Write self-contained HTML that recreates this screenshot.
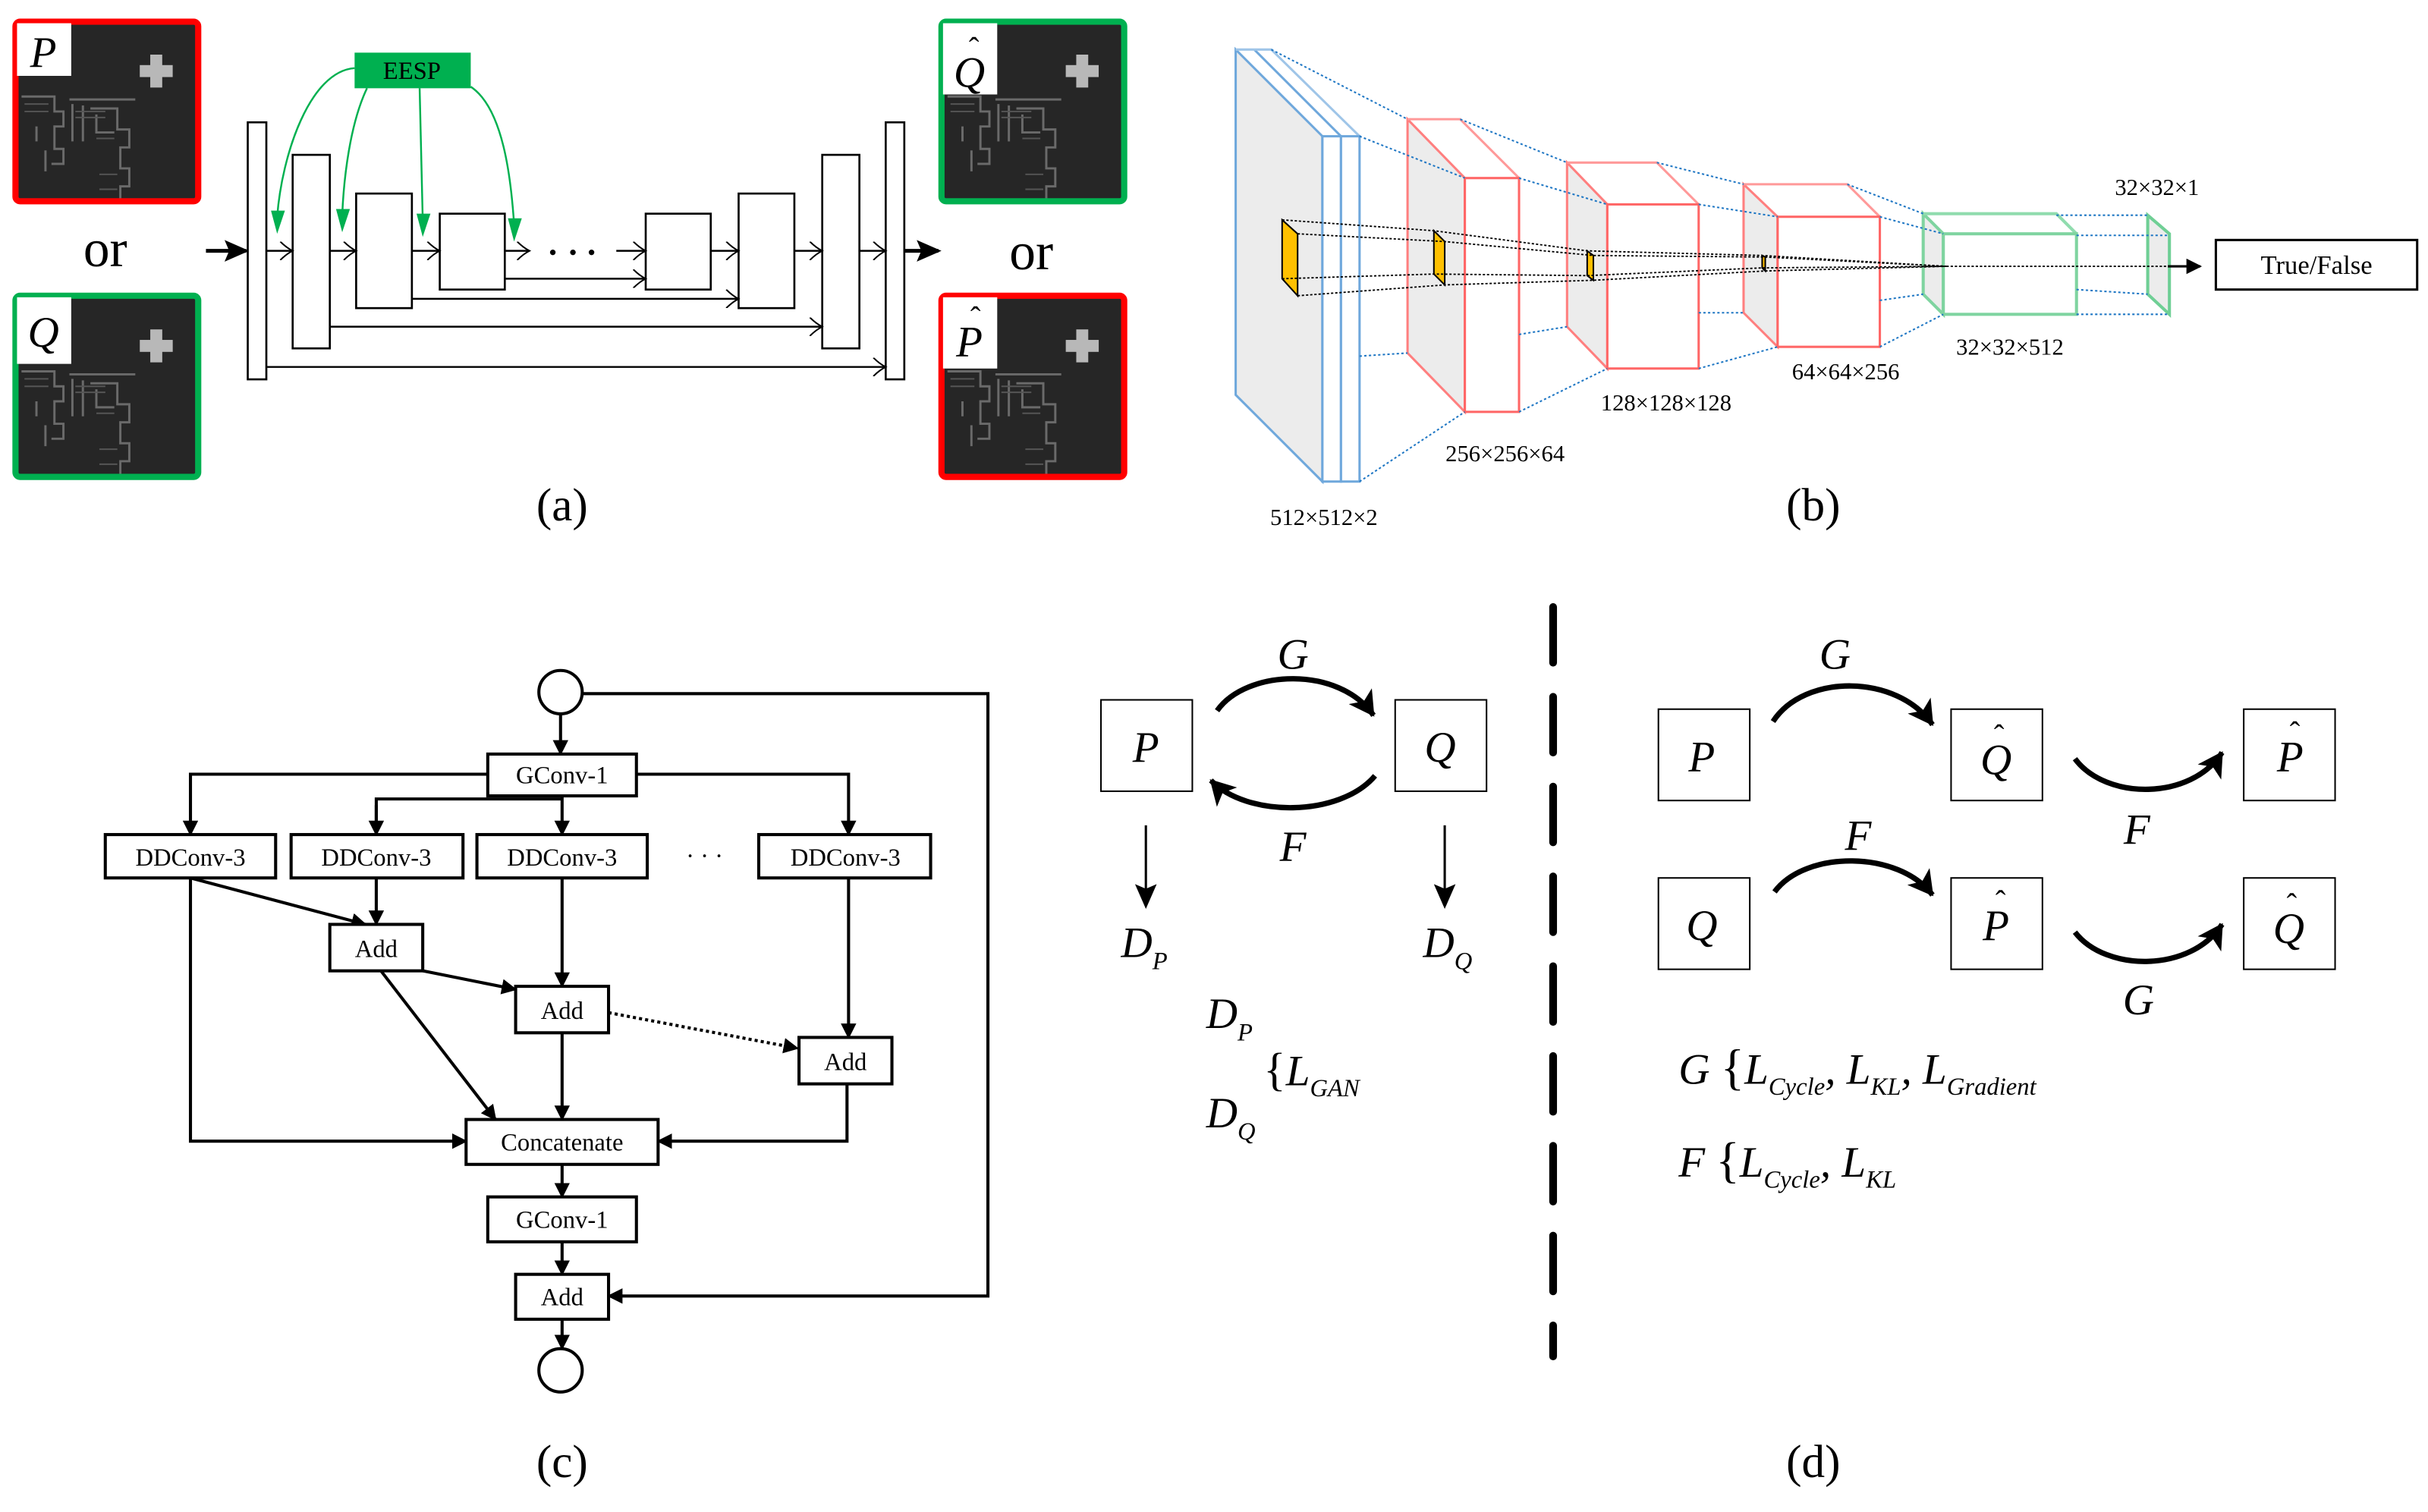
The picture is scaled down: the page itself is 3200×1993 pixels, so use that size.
<!DOCTYPE html>
<html><head><meta charset="utf-8"><style>
html,body{margin:0;padding:0;background:#fff;}
svg{display:block;}
text{font-family:"Liberation Serif",serif;}
.it{font-style:italic;}
</style></head><body>
<svg width="3200" height="1993" viewBox="0 0 1568 976.5" preserveAspectRatio="none" xmlns="http://www.w3.org/2000/svg">
<defs>
<marker id="ah" markerWidth="10" markerHeight="10" refX="9" refY="5" orient="auto" markerUnits="userSpaceOnUse"><path d="M0,0 L10,5 L0,10 Z" fill="#000"/></marker>
<marker id="ahb" markerWidth="16" markerHeight="14" refX="14" refY="7" orient="auto" markerUnits="userSpaceOnUse"><path d="M0,0 L16,7 L0,14 L3,7 Z" fill="#000"/></marker>
<marker id="open" markerWidth="10" markerHeight="12" refX="9" refY="6" orient="auto" markerUnits="userSpaceOnUse"><path d="M1,0 Q5,4 9,6 Q5,8 1,12" fill="none" stroke="#000" stroke-width="1"/></marker>
<marker id="cah" markerWidth="18" markerHeight="18" refX="15" refY="9" orient="auto" markerUnits="userSpaceOnUse"><path d="M0,0 L16,9 L0,18 L4,9 Z" fill="#000"/></marker>
<symbol id="sar" viewBox="0 0 122 120">
<rect width="122" height="120" fill="#262626"/>
<rect x="90" y="22" width="8" height="22" fill="#b8b8b8"/><rect x="83" y="29" width="22" height="8" fill="#b8b8b8"/>
<g fill="none" stroke="#6a6a6a" stroke-width="1.5">
<path d="M4,50 H26 V60 H32 V70 H26 V85 H32 V95 H24"/>
<path d="M36,52 H80"/><path d="M38,55 V80"/><path d="M45,56 V80"/>
<path d="M50,58 H68 V72 H76 V84 H70 V98 H76 V110 H70 V120"/>
<path d="M54,62 V74 H66"/><path d="M14,70 V80"/><path d="M20,86 V100"/>
</g>
<g stroke="#555" stroke-width="1"><path d="M6,55 H22 M6,60 H22 M54,78 H66 M56,102 H68 M56,112 H68 M40,60 H60 M40,64 H60"/></g>
</symbol>
</defs>

<!-- ========== (a) ========== -->
<g>
<use href="#sar" x="10" y="14" width="118" height="116"/>
<rect x="10" y="14" width="118" height="116" rx="3" fill="none" stroke="#ff0000" stroke-width="4"/>
<rect x="11" y="15" width="35" height="34" fill="#fff"/>
<text x="28" y="43" font-size="28" class="it" text-anchor="middle">P</text>

<use href="#sar" x="10" y="191" width="118" height="117"/>
<rect x="10" y="191" width="118" height="117" rx="3" fill="none" stroke="#00b050" stroke-width="4"/>
<rect x="11" y="192" width="35" height="43" fill="#fff"/>
<text x="28" y="224" font-size="28" class="it" text-anchor="middle">Q</text>

<use href="#sar" x="608" y="14" width="118" height="116"/>
<rect x="608" y="14" width="118" height="116" rx="3" fill="none" stroke="#00b050" stroke-width="4"/>
<rect x="609" y="15" width="35" height="46" fill="#fff"/>
<text x="626" y="56" font-size="28" class="it" text-anchor="middle">Q</text>
<text x="629" y="38" font-size="20" text-anchor="middle">ˆ</text>

<use href="#sar" x="608" y="191" width="118" height="117"/>
<rect x="608" y="191" width="118" height="117" rx="3" fill="none" stroke="#ff0000" stroke-width="4"/>
<rect x="609" y="192" width="35" height="46" fill="#fff"/>
<text x="626" y="230" font-size="28" class="it" text-anchor="middle">P</text>
<text x="630" y="212" font-size="20" text-anchor="middle">ˆ</text>

<text x="68" y="172" font-size="34" text-anchor="middle">or</text>
<text x="666" y="174" font-size="34" text-anchor="middle">or</text>

<line x1="133" y1="162" x2="159" y2="162" stroke="#000" stroke-width="2.5" marker-end="url(#ahb)"/>
<line x1="584" y1="162" x2="606" y2="162" stroke="#000" stroke-width="2.5" marker-end="url(#ahb)"/>

<g fill="#fff" stroke="#000" stroke-width="1.3">
<rect x="160" y="79" width="12" height="166"/>
<rect x="189" y="100" width="24" height="125"/>
<rect x="230" y="125" width="36" height="74"/>
<rect x="284" y="138" width="42" height="49"/>
<rect x="417" y="138" width="42" height="49"/>
<rect x="477" y="125" width="36" height="74"/>
<rect x="531" y="100" width="24" height="125"/>
<rect x="572" y="79" width="12" height="166"/>
</g>
<g stroke="#000" stroke-width="1.2" fill="none" marker-end="url(#open)">
<line x1="172" y1="162" x2="189" y2="162"/>
<line x1="213" y1="162" x2="230" y2="162"/>
<line x1="266" y1="162" x2="284" y2="162"/>
<line x1="326" y1="162" x2="342" y2="162"/>
<line x1="398" y1="162" x2="417" y2="162"/>
<line x1="459" y1="162" x2="477" y2="162"/>
<line x1="513" y1="162" x2="531" y2="162"/>
<line x1="555" y1="162" x2="572" y2="162"/>
<line x1="326" y1="180" x2="417" y2="180"/>
<line x1="266" y1="193" x2="477" y2="193"/>
<line x1="213" y1="211" x2="531" y2="211"/>
<line x1="172" y1="237" x2="572" y2="237"/>
</g>
<circle cx="357" cy="163" r="1.8"/><circle cx="370" cy="163" r="1.8"/><circle cx="382" cy="163" r="1.8"/>

<rect x="229" y="34" width="75" height="23" fill="#00b050"/>
<text x="266" y="51" font-size="16" text-anchor="middle">EESP</text>
<g fill="none" stroke="#00b050" stroke-width="1.2">
<path d="M229,44 C200,46 182,100 179,140"/>
<path d="M237,57 C226,80 222,115 221,139"/>
<path d="M271,57 L273,142"/>
<path d="M304,56 C325,70 330,115 332,145"/>
</g>
<g fill="#00b050">
<polygon points="175,136 184,136 179,151"/>
<polygon points="217,135 226,135 221,150"/>
<polygon points="269,138 278,138 273,153"/>
<polygon points="328,141 337,141 332,156"/>
</g>
<text x="363" y="336" font-size="30" text-anchor="middle">(a)</text>
</g>

<!-- ========== (b) ========== -->
<g>
<polygon points="798,32 854,88 854,311 798,255" fill="#ececec" stroke="#6fa8dc" stroke-width="1.5"/>
<polyline points="810,32 866,88" fill="none" stroke="#6fa8dc" stroke-width="1.5"/>
<polyline points="798,32 821,32 878,88" fill="none" stroke="#9fc5e8" stroke-width="1.5"/>
<rect x="854" y="88" width="12" height="223" fill="#fff" stroke="#6fa8dc" stroke-width="1.5"/>
<rect x="866" y="88" width="12" height="223" fill="#fff" stroke="#6fa8dc" stroke-width="1.5"/>
<polygon points="909,77 946,115 946,266 909,228" fill="#ececec" stroke="#ff7f7f" stroke-width="1.5"/>
<polyline points="909,77 943,77 981,115" fill="none" stroke="#ff9999" stroke-width="1.5"/>
<rect x="946" y="115" width="35" height="151" fill="#fff" stroke="#ff6666" stroke-width="1.5"/>
<polygon points="1012,105 1038,132 1038,238 1012,211" fill="#ececec" stroke="#ff7f7f" stroke-width="1.5"/>
<polyline points="1012,105 1070,105 1097,132" fill="none" stroke="#ff9999" stroke-width="1.5"/>
<rect x="1038" y="132" width="59" height="106" fill="#fff" stroke="#ff6666" stroke-width="1.5"/>
<polygon points="1126,119 1148,140 1148,224 1126,202" fill="#ececec" stroke="#ff7f7f" stroke-width="1.5"/>
<polyline points="1126,119 1193,119 1214,140" fill="none" stroke="#ff9999" stroke-width="1.5"/>
<rect x="1148" y="140" width="66" height="84" fill="#fff" stroke="#ff6666" stroke-width="1.5"/>
<polygon points="1242,138 1255,151 1255,203 1242,190" fill="#ececec" stroke="#7fd4a0" stroke-width="2"/>
<polyline points="1242,138 1328,138 1341,151" fill="none" stroke="#90dcae" stroke-width="2"/>
<rect x="1255" y="151" width="86" height="52" fill="#fff" stroke="#7fd4a0" stroke-width="2"/>
<polygon points="1387,139 1401,151 1401,203 1387,190" fill="#ececec" stroke="#6fcf95" stroke-width="2"/>
<g stroke="#1f77c4" stroke-width="1" stroke-dasharray="1.5,1.5" fill="none">
<line x1="821" y1="32" x2="909" y2="77"/><line x1="878" y1="88" x2="946" y2="115"/>
<line x1="878" y1="311" x2="946" y2="266"/><line x1="878" y1="230" x2="909" y2="228"/>
<line x1="943" y1="77" x2="1012" y2="105"/><line x1="981" y1="115" x2="1038" y2="132"/>
<line x1="981" y1="266" x2="1038" y2="238"/><line x1="981" y1="216" x2="1012" y2="211"/>
<line x1="1070" y1="105" x2="1126" y2="119"/><line x1="1097" y1="132" x2="1148" y2="140"/>
<line x1="1097" y1="238" x2="1148" y2="224"/><line x1="1097" y1="202" x2="1126" y2="202"/>
<line x1="1193" y1="119" x2="1242" y2="138"/><line x1="1214" y1="140" x2="1255" y2="151"/>
<line x1="1214" y1="224" x2="1255" y2="203"/><line x1="1214" y1="194" x2="1242" y2="190"/>
<line x1="1328" y1="139" x2="1387" y2="139"/><line x1="1341" y1="152" x2="1401" y2="152"/>
<line x1="1341" y1="203" x2="1401" y2="203"/><line x1="1341" y1="187" x2="1387" y2="190"/>
</g>
<g fill="#ffc000" stroke="#000" stroke-width="1">
<polygon points="828,142 838,151 838,191 828,180"/>
<polygon points="926,149 933,156 933,184 926,177"/>
<polygon points="1025,162 1029,165 1029,181 1025,178"/>
<polygon points="1138,165 1140,166 1140,175 1138,173"/>
</g>
<g stroke="#000" stroke-width="0.9" stroke-dasharray="1.5,1.2" fill="none">
<polyline points="828,142 926,149 1025,162 1138,165 1257,172"/>
<polyline points="838,151 933,156 1029,165 1140,166 1257,172"/>
<polyline points="838,191 933,184 1029,181 1140,175 1257,172"/>
<polyline points="828,180 926,177 1025,178 1138,173 1257,172"/>
<line x1="1257" y1="172" x2="1405" y2="172"/>
</g>
<line x1="1400" y1="172" x2="1421" y2="172" stroke="#000" stroke-width="1.5" marker-end="url(#ah)"/>
<rect x="1431" y="155" width="130" height="32" fill="#fff" stroke="#000" stroke-width="1.5"/>
<text x="1496" y="177" font-size="17" text-anchor="middle">True/False</text>
<g font-size="15" text-anchor="middle">
<text x="855" y="339">512×512×2</text>
<text x="972" y="298">256×256×64</text>
<text x="1076" y="265">128×128×128</text>
<text x="1192" y="245">64×64×256</text>
<text x="1298" y="229">32×32×512</text>
<text x="1393" y="126">32×32×1</text>
</g>
<text x="1171" y="336" font-size="30" text-anchor="middle">(b)</text>
</g>

<!-- ========== (c) ========== -->
<g stroke="#000" stroke-width="2" fill="none">
<circle cx="362" cy="447" r="14" fill="#fff"/>
<circle cx="362" cy="885" r="14" fill="#fff"/>
<line x1="362" y1="461" x2="362" y2="487" marker-end="url(#ah)"/>
<polyline points="315,500 123,500 123,539" marker-end="url(#ah)"/>
<polyline points="411,500 548,500 548,539" marker-end="url(#ah)"/>
<polyline points="243,539 243,516 363,516"/>
<line x1="243" y1="520" x2="243" y2="539" marker-end="url(#ah)"/>
<line x1="363" y1="514" x2="363" y2="539" marker-end="url(#ah)"/>
<line x1="123" y1="567" x2="236" y2="597" marker-end="url(#ah)"/>
<line x1="243" y1="567" x2="243" y2="597" marker-end="url(#ah)"/>
<line x1="363" y1="567" x2="363" y2="637" marker-end="url(#ah)"/>
<line x1="548" y1="567" x2="548" y2="670" marker-end="url(#ah)"/>
<line x1="273" y1="627" x2="333" y2="639" marker-end="url(#ah)"/>
<line x1="393" y1="654" x2="515" y2="677" stroke-dasharray="2,2" marker-end="url(#ah)"/>
<polyline points="123,567 123,737 301,737" marker-end="url(#ah)"/>
<line x1="246" y1="627" x2="320" y2="723" marker-end="url(#ah)"/>
<line x1="363" y1="667" x2="363" y2="723" marker-end="url(#ah)"/>
<polyline points="547,700 547,737 425,737" marker-end="url(#ah)"/>
<line x1="363" y1="752" x2="363" y2="773" marker-end="url(#ah)"/>
<line x1="363" y1="802" x2="363" y2="823" marker-end="url(#ah)"/>
<line x1="363" y1="852" x2="363" y2="871" marker-end="url(#ah)"/>
<polyline points="376,448 638,448 638,837 393,837" marker-end="url(#ah)"/>
</g>
<g fill="#fff" stroke="#000" stroke-width="2">
<rect x="315" y="487" width="96" height="27"/>
<rect x="68" y="539" width="110" height="28"/>
<rect x="188" y="539" width="111" height="28"/>
<rect x="308" y="539" width="110" height="28"/>
<rect x="490" y="539" width="111" height="28"/>
<rect x="213" y="597" width="60" height="30"/>
<rect x="333" y="637" width="60" height="30"/>
<rect x="516" y="670" width="60" height="30"/>
<rect x="301" y="723" width="124" height="29"/>
<rect x="315" y="773" width="96" height="29"/>
<rect x="333" y="823" width="60" height="29"/>
</g>
<g font-size="16" text-anchor="middle">
<text x="363" y="506">GConv-1</text>
<text x="123" y="559">DDConv-3</text>
<text x="243" y="559">DDConv-3</text>
<text x="363" y="559">DDConv-3</text>
<text x="546" y="559">DDConv-3</text>
<text x="243" y="618">Add</text>
<text x="363" y="658">Add</text>
<text x="546" y="691">Add</text>
<text x="363" y="743">Concatenate</text>
<text x="363" y="793">GConv-1</text>
<text x="363" y="843">Add</text>
<text x="455" y="558">· · ·</text>
</g>
<text x="363" y="954" font-size="30" text-anchor="middle">(c)</text>

<!-- ========== (d) ========== -->
<line x1="1003" y1="392" x2="1003" y2="876" stroke="#000" stroke-width="5" stroke-dasharray="36,22" stroke-linecap="round"/>
<g fill="#fff" stroke="#000" stroke-width="1">
<rect x="711" y="452" width="59" height="59"/>
<rect x="901" y="452" width="59" height="59"/>
<rect x="1071" y="458" width="59" height="59"/>
<rect x="1260" y="458" width="59" height="59"/>
<rect x="1449" y="458" width="59" height="59"/>
<rect x="1071" y="567" width="59" height="59"/>
<rect x="1260" y="567" width="59" height="59"/>
<rect x="1449" y="567" width="59" height="59"/>
</g>
<g fill="none" stroke="#000" stroke-width="3.5" marker-end="url(#cah)">
<path d="M786,459 C805,432 865,430 887,462"/>
<path d="M888,501 C865,528 805,528 782,504"/>
<path d="M1145,466 C1165,435 1225,435 1248,468"/>
<path d="M1340,490 C1360,517 1415,517 1435,486"/>
<path d="M1146,576 C1166,549 1226,549 1248,578"/>
<path d="M1340,602 C1360,628 1415,628 1435,597"/>
</g>
<g stroke="#000" stroke-width="1.5" marker-end="url(#ahb)">
<line x1="740" y1="533" x2="740" y2="585"/>
<line x1="933" y1="533" x2="933" y2="585"/>
</g>
<g class="it" font-size="28" text-anchor="middle">
<text x="740" y="492">P</text><text x="930" y="492">Q</text>
<text x="835" y="432">G</text><text x="835" y="556">F</text>
<text x="1099" y="498">P</text><text x="1289" y="500">Q</text><text x="1479" y="498">P</text>
<text x="1099" y="607">Q</text><text x="1289" y="607">P</text><text x="1478" y="609">Q</text>
<text x="1185" y="432">G</text><text x="1380" y="545">F</text>
<text x="1200" y="549">F</text><text x="1381" y="655">G</text>
</g>
<g font-size="20" text-anchor="middle">
<text x="1291" y="482">ˆ</text><text x="1482" y="480">ˆ</text>
<text x="1292" y="589">ˆ</text><text x="1480" y="591">ˆ</text>
</g>
<g class="it" font-size="28">
<text x="724" y="618">D<tspan font-size="16" dy="8">P</tspan></text>
<text x="919" y="618">D<tspan font-size="16" dy="8">Q</tspan></text>
<text x="779" y="664">D<tspan font-size="16" dy="8">P</tspan></text>
<text x="779" y="728">D<tspan font-size="16" dy="8">Q</tspan></text>
<text x="816" y="701"><tspan font-style="normal" font-size="30">{</tspan>L<tspan font-size="16" dy="7">GAN</tspan></text>
<text x="1084" y="700">G <tspan font-style="normal" font-size="32">{</tspan>L<tspan font-size="16" dy="7">Cycle</tspan><tspan dy="-7">, L</tspan><tspan font-size="16" dy="7">KL</tspan><tspan dy="-7">, L</tspan><tspan font-size="16" dy="7">Gradient</tspan></text>
<text x="1084" y="760">F <tspan font-style="normal" font-size="32">{</tspan>L<tspan font-size="16" dy="7">Cycle</tspan><tspan dy="-7">, L</tspan><tspan font-size="16" dy="7">KL</tspan></text>
</g>
<text x="1171" y="954" font-size="30" text-anchor="middle">(d)</text>
</svg>
</body></html>
